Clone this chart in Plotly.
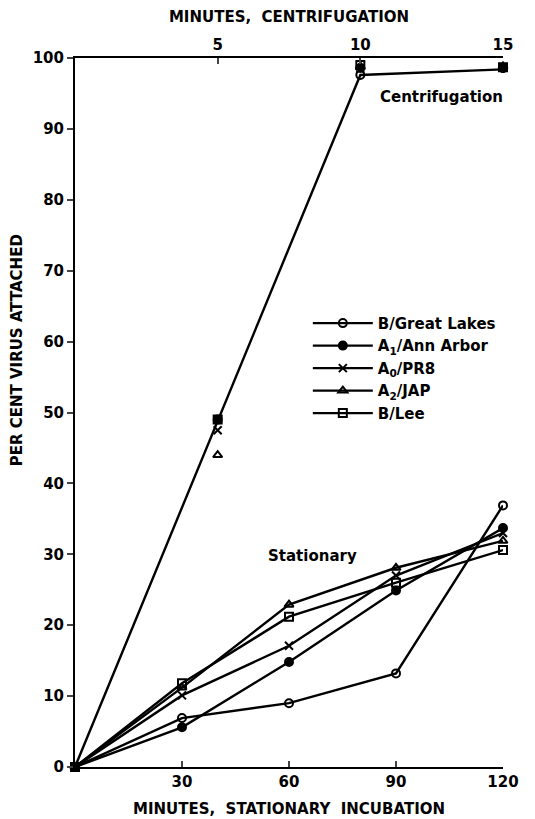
import plotly.graph_objects as go

# ---- data ----
stationary_minutes = [0, 30, 60, 90, 120]
centrifuge_minutes = [5, 10, 15]

strains = ["B/Great Lakes", "A<sub>1</sub>/Ann Arbor", "A<sub>0</sub>/PR8",
           "A<sub>2</sub>/JAP", "B/Lee"]
symbols = ["circle-open", "circle", "x-thin-open", "triangle-up-open", "square-open"]

stat_great_lakes = [0, 6.9, 9.0, 13.2, 36.9]
stat_ann_arbor = [0, 5.6, 14.8, 24.9, 33.7]
stat_pr8 = [0, 10.1, 17.1, 27.0, 33.0]
stat_jap = [0, 11.2, 22.9, 28.1, 31.9]
stat_lee = [0, 11.8, 21.2, 26.0, 30.6]

cent_great_lakes = [None, 97.6, 98.6]
cent_ann_arbor = [49.0, 98.6, 98.6]
cent_pr8 = [47.5, 98.5, 98.7]
cent_jap = [44.0, 98.8, 98.8]
cent_lee = [49.0, 99.0, 98.7]

cent_line_minutes = [0, 5, 10, 15]
cent_line_values = [0, 48.8, 97.6, 98.4]

y_ticks = [0, 10, 20, 30, 40, 50, 60, 70, 80, 90, 100]
x_ticks = [30, 60, 90, 120]
x2_ticks = [5, 10, 15]

stationary = [stat_great_lakes, stat_ann_arbor, stat_pr8, stat_jap, stat_lee]
centrifuge = [cent_great_lakes, cent_ann_arbor, cent_pr8, cent_jap, cent_lee]

FONT = "DejaVu Sans"
BLACK = "black"

fig = go.Figure()

for name, sym, vals in zip(strains, symbols, stationary):
    fig.add_trace(go.Scatter(
        x=stationary_minutes, y=vals, name=name, mode="lines+markers",
        line=dict(color=BLACK, width=2.4),
        marker=dict(symbol=sym, size=8, color=BLACK,
                    line=dict(color=BLACK, width=2)),
        cliponaxis=False,
    ))

fig.add_trace(go.Scatter(
    x=cent_line_minutes, y=cent_line_values, mode="lines", xaxis="x2",
    line=dict(color=BLACK, width=2.4), showlegend=False, cliponaxis=False,
))

for name, sym, vals in zip(strains, symbols, centrifuge):
    fig.add_trace(go.Scatter(
        x=centrifuge_minutes, y=vals, name=name, mode="markers", xaxis="x2",
        marker=dict(symbol=sym, size=8, color=BLACK,
                    line=dict(color=BLACK, width=2)),
        showlegend=False, cliponaxis=False,
    ))

fig.update_layout(
    width=535, height=819,
    margin=dict(l=75, r=32, t=58, b=52, autoexpand=False),
    paper_bgcolor="white", plot_bgcolor="white",
    font=dict(family=FONT, size=15, color=BLACK, weight="bold"),
    showlegend=True,
    legend=dict(x=0.544, y=0.649, xanchor="left", yanchor="top",
                bgcolor="rgba(0,0,0,0)", font=dict(size=15, family=FONT, weight="bold"),
                itemwidth=60, tracegroupgap=0),
    xaxis=dict(range=[0, 120], tickvals=x_ticks, ticks="inside", ticklen=6,
               tickwidth=2, showline=True, linewidth=2, linecolor=BLACK,
               showgrid=False, zeroline=False, automargin=False,
               title=dict(text="MINUTES,  STATIONARY  INCUBATION", standoff=13,
                          font=dict(size=15, family=FONT, weight="bold"))),
    xaxis2=dict(range=[0, 15], tickvals=x2_ticks, ticks="inside", ticklen=6,
                tickwidth=2, overlaying="x", side="top", anchor="y",
                showline=True, linewidth=2, linecolor=BLACK,
                showgrid=False, zeroline=False, automargin=False,
                title=dict(text="MINUTES,  CENTRIFUGATION", standoff=10,
                           font=dict(size=15, family=FONT, weight="bold"))),
    yaxis=dict(range=[0, 100], tickvals=y_ticks, ticks="outside", ticklen=6,
               tickwidth=2, showline=True, linewidth=2, linecolor=BLACK,
               showgrid=False, zeroline=False, automargin=False),
    annotations=[
        dict(text="Stationary", x=66.5, y=29.8, xref="x", yref="y",
             showarrow=False, font=dict(size=15)),
        dict(text="Centrifugation", x=12.83, y=94.5, xref="x2", yref="y",
             showarrow=False, font=dict(size=15)),
        dict(text="PER CENT VIRUS ATTACHED", x=-0.135, y=0.588,
             xref="paper", yref="paper", textangle=-90, showarrow=False,
             xanchor="center", yanchor="middle", font=dict(size=15)),
    ],
)

fig.write_html("out.html",
               config={"displayModeBar": False},
               post_script="document.body.style.margin='0';"
                           "document.documentElement.style.margin='0';")
